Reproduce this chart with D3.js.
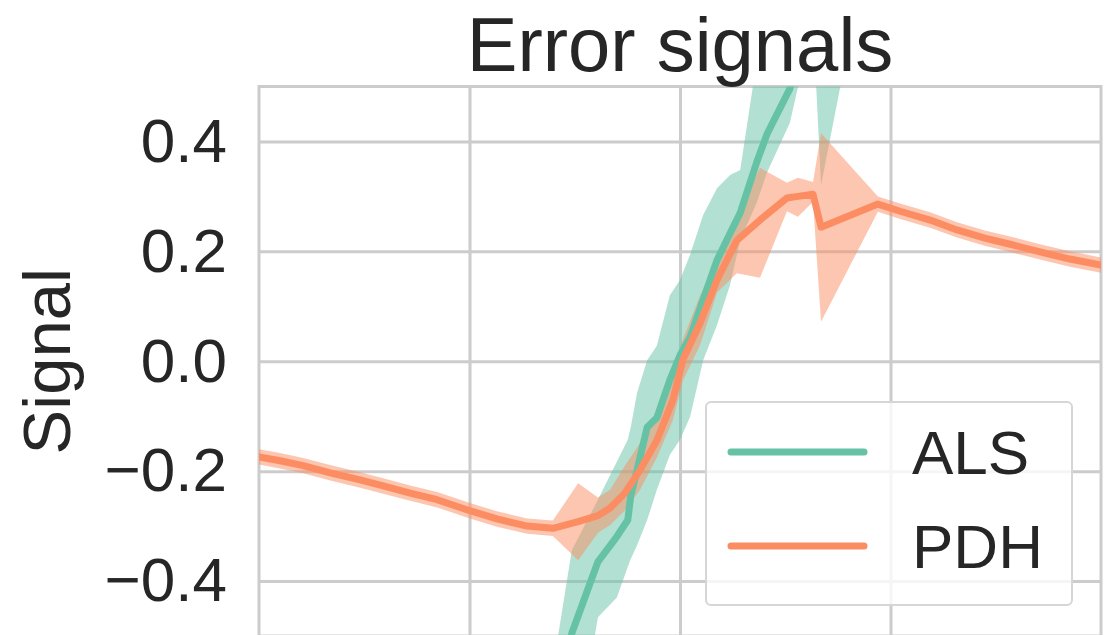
<!DOCTYPE html>
<html><head><meta charset="utf-8">
<script src="https://cdn.jsdelivr.net/npm/d3@7"></script>
<style>
body{margin:0;background:#fff}
svg{display:block}
text{font-family:"Liberation Sans",Arial,Helvetica,sans-serif;fill:#262626}
</style>
</head><body>
<svg id="chart" width="1114" height="635"></svg>
<script>
// ---- data ----
const titleText = "Error signals";
const yLabel = "Signal";
const seriesNames = ["ALS", "PDH"];
const seriesColors = ["#66c2a5", "#fc8d62"];
const yTicks = [-0.4, -0.2, 0.0, 0.2, 0.4];
const xTicks = [-0.5, 0, 0.5];

const alsX    = [-0.321,-0.257,-0.195,-0.150,-0.124,-0.117,-0.102,-0.078,-0.055,-0.024,0.000,0.024,0.055,0.088,0.119,0.143,0.183,0.207,0.261,0.316,0.335,0.470];
const alsMean = [-0.80,-0.495,-0.365,-0.319,-0.289,-0.245,-0.198,-0.120,-0.103,-0.034,0.011,0.044,0.112,0.184,0.233,0.270,0.364,0.414,0.496,0.72,0.80,1.10];
const alsLow  = [-0.95,-0.75,-0.466,-0.430,-0.374,-0.360,-0.335,-0.289,-0.234,-0.170,-0.143,-0.101,0.002,0.066,0.139,0.220,0.290,0.344,0.434,0.62,0.32,0.85];
const alsHigh = [-0.65,-0.344,-0.252,-0.183,-0.143,-0.120,-0.058,0.002,0.028,0.120,0.148,0.194,0.266,0.315,0.339,0.348,0.55,0.65,0.90,1.10,1.30,1.40];

const pdhX    = [-1.000,-0.950,-0.895,-0.831,-0.760,-0.705,-0.641,-0.577,-0.499,-0.435,-0.363,-0.302,-0.242,-0.195,-0.166,-0.131,-0.095,-0.055,-0.017,0.007,0.048,0.088,0.135,0.190,0.254,0.280,0.316,0.335,0.470,0.523,0.594,0.658,0.724,0.789,0.855,0.926,1.000];
const pdhMean = [-0.174,-0.181,-0.190,-0.203,-0.216,-0.227,-0.240,-0.252,-0.272,-0.287,-0.300,-0.304,-0.292,-0.281,-0.267,-0.240,-0.198,-0.144,-0.071,0.003,0.070,0.148,0.220,0.257,0.297,0.300,0.304,0.244,0.286,0.273,0.257,0.239,0.224,0.212,0.199,0.186,0.175];
const pdhLow  = [-0.188,-0.195,-0.204,-0.217,-0.230,-0.241,-0.254,-0.266,-0.286,-0.301,-0.314,-0.318,-0.362,-0.312,-0.298,-0.271,-0.234,-0.175,-0.107,-0.035,0.030,0.125,0.160,0.152,0.273,0.263,0.290,0.072,0.272,0.259,0.243,0.225,0.210,0.198,0.185,0.172,0.161];
const pdhHigh = [-0.160,-0.167,-0.176,-0.189,-0.202,-0.213,-0.226,-0.238,-0.258,-0.273,-0.286,-0.290,-0.222,-0.248,-0.234,-0.190,-0.149,-0.098,-0.034,0.040,0.120,0.175,0.270,0.352,0.325,0.334,0.326,0.415,0.300,0.287,0.271,0.253,0.238,0.226,0.213,0.200,0.189];

// ---- layout ----
const svg = d3.select("#chart");
const plot = {left: 259, right: 1101, top: 86.5, bottom: 636};
const x = d3.scaleLinear().domain([-1, 1]).range([plot.left, plot.right]);
const y = d3.scaleLinear().domain([-0.5, 0.5]).range([plot.bottom, plot.top]);
const gridColor = "#cccccc";
const gridWidth = 3;

svg.append("defs").append("clipPath").attr("id","clip")
  .append("rect").attr("x",plot.left).attr("y",plot.top)
  .attr("width",plot.right-plot.left).attr("height",plot.bottom-plot.top);

// grid: horizontal with labels
const yAxis = svg.append("g").attr("transform",`translate(${plot.left},0)`)
  .call(d3.axisLeft(y).tickValues(yTicks).tickFormat(d3.format(".1f"))
    .tickSize(-(plot.right-plot.left)).tickPadding(32));
yAxis.select(".domain").remove();
yAxis.selectAll(".tick line").attr("stroke",gridColor).attr("stroke-width",gridWidth);
yAxis.selectAll(".tick text").attr("font-size",62).attr("fill","#262626")
  .attr("font-family",'"Liberation Sans",Arial,sans-serif');

// grid: vertical
const xAxis = svg.append("g").attr("transform",`translate(0,${plot.bottom})`)
  .call(d3.axisBottom(x).tickValues(xTicks).tickFormat("")
    .tickSize(-(plot.bottom-plot.top)));
xAxis.select(".domain").remove();
xAxis.selectAll(".tick line").attr("stroke",gridColor).attr("stroke-width",gridWidth);

// spines
const spines = svg.append("g").attr("stroke",gridColor).attr("stroke-width",gridWidth).attr("fill","none");
spines.append("rect").attr("x",plot.left).attr("y",plot.top)
  .attr("width",plot.right-plot.left).attr("height",plot.bottom-plot.top);

// series
const series = [
  {name: seriesNames[0], color: seriesColors[0], xs: alsX, m: alsMean, lo: alsLow, hi: alsHigh},
  {name: seriesNames[1], color: seriesColors[1], xs: pdhX, m: pdhMean, lo: pdhLow, hi: pdhHigh}
];
const g = svg.append("g").attr("clip-path","url(#clip)");
const area = d3.area().x(d=>x(d.x)).y0(d=>y(d.lo)).y1(d=>y(d.hi));
const line = d3.line().x(d=>x(d.x)).y(d=>y(d.m));
series.forEach(s=>{
  s.pts = s.xs.map((v,i)=>({x:v, m:s.m[i], lo:s.lo[i], hi:s.hi[i]}));
  g.append("path").datum(s.pts).attr("d",area).attr("fill",s.color).attr("fill-opacity",0.5);
});
series.forEach(s=>{
  g.append("path").datum(s.pts).attr("d",line).attr("fill","none")
    .attr("stroke",s.color).attr("stroke-width",7)
    .attr("stroke-linejoin","round").attr("stroke-linecap","round");
});

// title and labels
svg.append("text").attr("x",(plot.left+plot.right)/2).attr("y",71)
  .attr("text-anchor","middle").attr("font-size",76).text(titleText);
svg.append("text").attr("transform",`translate(70,${(plot.top+plot.bottom)/2}) rotate(-90)`)
  .attr("text-anchor","middle").attr("font-size",67).text(yLabel);

// legend
const lg = svg.append("g");
lg.append("rect").attr("x",706).attr("y",402).attr("width",366).attr("height",203)
  .attr("rx",5).attr("fill","#ffffff").attr("fill-opacity",0.8)
  .attr("stroke","#d6d6d6").attr("stroke-width",2);
series.forEach((s,i)=>{
  const yy = 452 + i*94;
  lg.append("line").attr("x1",731).attr("x2",864).attr("y1",yy).attr("y2",yy)
    .attr("stroke",s.color).attr("stroke-width",7).attr("stroke-linecap","round");
  lg.append("text").attr("x",912).attr("y",yy+22).attr("font-size",62).text(s.name);
});
</script>
</body></html>
